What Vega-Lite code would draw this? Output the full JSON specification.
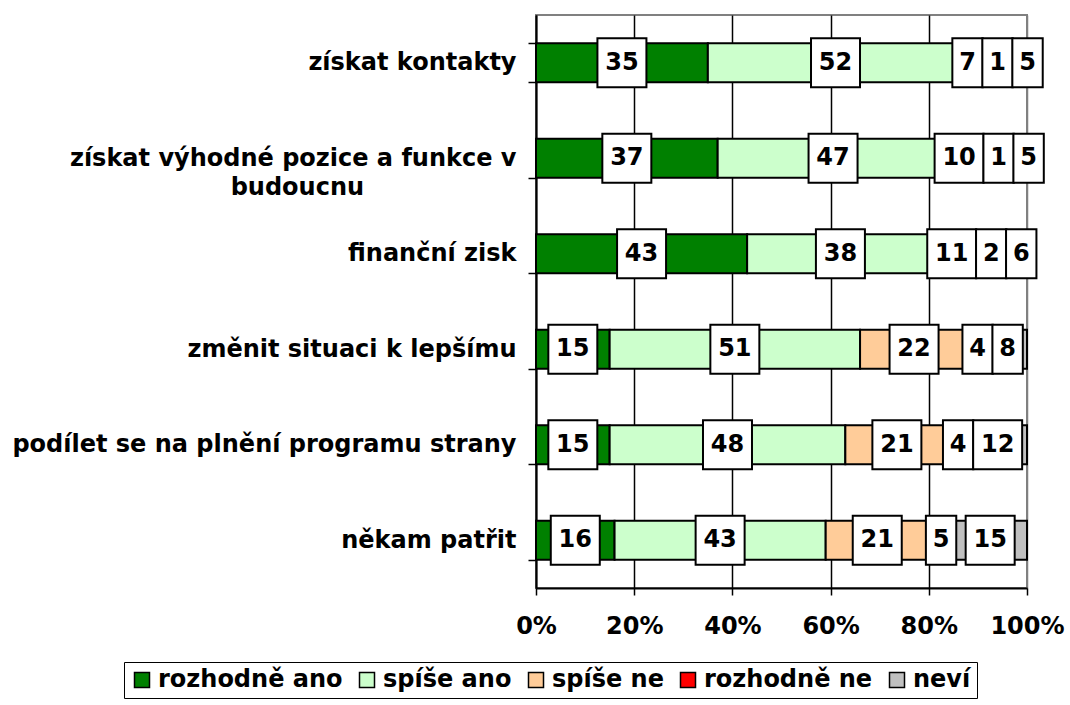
{
  "$schema": "https://vega.github.io/schema/vega-lite/v6.json",
  "width": 491,
  "height": 573,
  "autosize": {"type": "none"},
  "padding": {"left": 536, "top": 15, "right": 43, "bottom": 117},
  "background": "white",
  "title": {"text": "stran", "font": "DejaVu Sans", "fontSize": 24, "fontWeight": "bold", "color": "black", "frame": "bounds", "anchor": "middle", "baseline": "alphabetic", "offset": 0, "dy": 7},
  "config": {
    "font": "DejaVu Sans",
    "view": {"stroke": "#808080", "strokeWidth": 2},
    "axis": {"domainColor": "black", "domainWidth": 2, "tickColor": "black", "tickWidth": 1.5, "labelColor": "black", "labelFont": "DejaVu Sans", "labelFontWeight": "bold", "labelFontSize": 24, "title": null}
  },
  "data": {
    "values": [
      {"c": "získat kontakty", "k": "rozhodně ano", "v": 35},
      {"c": "získat kontakty", "k": "spíše ano", "v": 52},
      {"c": "získat kontakty", "k": "spíše ne", "v": 7},
      {"c": "získat kontakty", "k": "rozhodně ne", "v": 1},
      {"c": "získat kontakty", "k": "neví", "v": 5},
      {"c": "získat výhodné pozice a funkce v budoucnu", "k": "rozhodně ano", "v": 37},
      {"c": "získat výhodné pozice a funkce v budoucnu", "k": "spíše ano", "v": 47},
      {"c": "získat výhodné pozice a funkce v budoucnu", "k": "spíše ne", "v": 10},
      {"c": "získat výhodné pozice a funkce v budoucnu", "k": "rozhodně ne", "v": 1},
      {"c": "získat výhodné pozice a funkce v budoucnu", "k": "neví", "v": 5},
      {"c": "finanční zisk", "k": "rozhodně ano", "v": 43},
      {"c": "finanční zisk", "k": "spíše ano", "v": 38},
      {"c": "finanční zisk", "k": "spíše ne", "v": 11},
      {"c": "finanční zisk", "k": "rozhodně ne", "v": 2},
      {"c": "finanční zisk", "k": "neví", "v": 6},
      {"c": "změnit situaci k lepšímu", "k": "rozhodně ano", "v": 15},
      {"c": "změnit situaci k lepšímu", "k": "spíše ano", "v": 51},
      {"c": "změnit situaci k lepšímu", "k": "spíše ne", "v": 22},
      {"c": "změnit situaci k lepšímu", "k": "rozhodně ne", "v": 4},
      {"c": "změnit situaci k lepšímu", "k": "neví", "v": 8},
      {"c": "podílet se na plnění programu strany", "k": "rozhodně ano", "v": 15},
      {"c": "podílet se na plnění programu strany", "k": "spíše ano", "v": 48},
      {"c": "podílet se na plnění programu strany", "k": "spíše ne", "v": 21},
      {"c": "podílet se na plnění programu strany", "k": "rozhodně ne", "v": 4},
      {"c": "podílet se na plnění programu strany", "k": "neví", "v": 12},
      {"c": "někam patřit", "k": "rozhodně ano", "v": 16},
      {"c": "někam patřit", "k": "spíše ano", "v": 43},
      {"c": "někam patřit", "k": "spíše ne", "v": 21},
      {"c": "někam patřit", "k": "rozhodně ne", "v": 5},
      {"c": "někam patřit", "k": "neví", "v": 15}
    ]
  },
  "transform": [
    {"calculate": "indexof(['rozhodně ano','spíše ano','spíše ne','rozhodně ne','neví'], datum.k)", "as": "o"},
    {"stack": "v", "groupby": ["c"], "sort": [{"field": "o", "order": "ascending"}], "offset": "normalize", "as": ["x0", "x1"]},
    {"calculate": "(datum.x0 + datum.x1) / 2", "as": "xm"},
    {"calculate": "(datum.v >= 10 ? 49 : 30) / 491", "as": "w"},
    {"window": [{"op": "sum", "field": "w", "as": "Tinc"}], "groupby": ["c"], "sort": [{"field": "o", "order": "ascending"}], "frame": [null, 0]},
    {"window": [{"op": "sum", "field": "w", "as": "Uinc"}], "groupby": ["c"], "sort": [{"field": "o", "order": "ascending"}], "frame": [0, null]},
    {"calculate": "datum.xm - datum.w / 2 - (datum.Tinc - datum.w)", "as": "dd"},
    {"calculate": "datum.xm + datum.w / 2 + (datum.Uinc - datum.w)", "as": "ee"},
    {"window": [{"op": "max", "field": "dd", "as": "mm"}], "groupby": ["c"], "sort": [{"field": "o", "order": "ascending"}], "frame": [null, 0]},
    {"window": [{"op": "min", "field": "ee", "as": "nn"}], "groupby": ["c"], "sort": [{"field": "o", "order": "ascending"}], "frame": [0, null]},
    {"calculate": "((datum.Tinc - datum.w) + datum.mm + datum.w / 2 + datum.nn - (datum.Uinc - datum.w) - datum.w / 2) / 2", "as": "lx"}
  ],
  "encoding": {
    "y": {
      "field": "c", "type": "nominal", "sort": null,
      "scale": {"paddingInner": 0.59, "paddingOuter": 0.295},
      "axis": {
        "tickBand": "extent", "tickSize": 8, "labelPadding": 12,
        "labelLimit": 600, "labelLineHeight": 29,
        "labelExpr": "datum.label === 'získat výhodné pozice a funkce v budoucnu' ? ['získat výhodné pozice a funkce v', 'budoucnu\u00a0\u00a0\u00a0\u00a0\u00a0\u00a0\u00a0\u00a0\u00a0\u00a0\u00a0\u00a0\u00a0\u00a0\u00a0\u00a0\u2800'] : datum.label"
      }
    }
  },
  "layer": [
    {
      "mark": {"type": "bar", "stroke": "black", "strokeWidth": 2},
      "encoding": {
        "x": {
          "field": "x0", "type": "quantitative",
          "scale": {"domain": [0, 1], "nice": false},
          "axis": {
            "values": [0, 0.2, 0.4, 0.6, 0.8, 1], "format": ".0%", "tickSize": 7, "labelPadding": 19,
            "labelOverlap": false, "labelFlush": false,
            "grid": true, "gridWidth": 1.5,
            "gridColor": {"condition": {"test": "datum.value >= 1", "value": "#808080"}, "value": "black"}
          }
        },
        "x2": {"field": "x1"},
        "color": {
          "field": "k", "type": "nominal",
          "scale": {"domain": ["rozhodně ano", "spíše ano", "spíše ne", "rozhodně ne", "neví"], "range": ["#008000", "#CCFFCC", "#FFCC99", "#FF0000", "#C0C0C0"]},
          "legend": {
            "title": null, "orient": "none", "legendX": -412, "legendY": 647, "direction": "horizontal",
            "strokeColor": "black", "fillColor": "white", "padding": 6,
            "symbolType": "square", "symbolSize": 225, "symbolStrokeColor": "black", "symbolStrokeWidth": 1.5,
            "labelFont": "DejaVu Sans", "labelFontWeight": "bold", "labelFontSize": 24, "labelColor": "black",
            "labelOffset": 4, "columnPadding": 12, "labelLimit": 400
          }
        }
      }
    },
    {
      "mark": {"type": "point", "filled": true, "fill": "white", "stroke": "black", "strokeWidth": 2, "opacity": 1, "size": 2401},
      "encoding": {
        "x": {"field": "lx", "type": "quantitative"},
        "shape": {"condition": {"test": "datum.v >= 10", "value": "square"}, "value": "M-0.62,-1H0.62V1H-0.62Z"}
      }
    },
    {
      "mark": {"type": "text", "font": "DejaVu Sans", "fontSize": 24, "fontWeight": "bold", "color": "black", "baseline": "middle", "align": "center"},
      "encoding": {
        "x": {"field": "lx", "type": "quantitative"},
        "text": {"field": "v"}
      }
    }
  ]
}
